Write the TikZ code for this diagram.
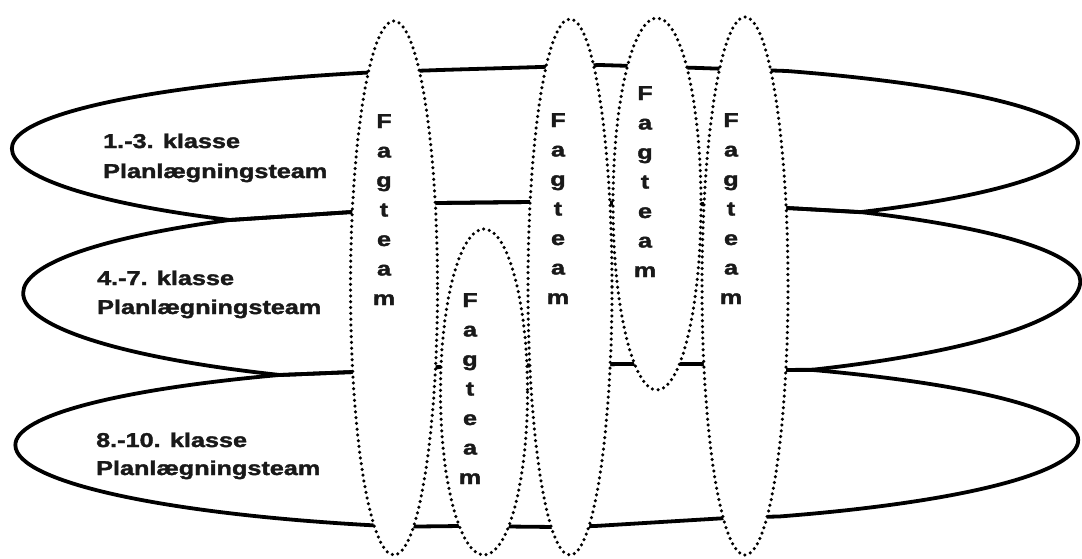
\documentclass[tikz,border=0pt]{standalone}
\usepackage{graphicx}
\usepackage{fontspec}
\newfontfamily\labfont{Liberation Sans}[UprightFont={* Bold}, FakeBold=1.6]
\newcommand{\wide}[1]{\scalebox{1.26}[1]{#1}}
\tikzset{
  grade/.style={draw=black, line width=3.8pt, line join=round},
  fagfill/.style={fill=white},
  fagring/.style={draw=black, line width=3.5pt, dash pattern=on 0pt off 5.8pt, line cap=round},
  lbl/.style={anchor=base west, inner sep=0pt, text=black!90,
    font=\labfont\fontsize{20}{24}\selectfont},
  fagl/.style={anchor=base, inner sep=0pt, text=black!90,
    font=\labfont\fontsize{20}{24}\selectfont}
}
\begin{document}
\begin{tikzpicture}[x=1pt,y=-1pt]
\useasboundingbox (0,0) rectangle (1082,558);
% grade-level planning teams (solid bands)
\draw[grade] (12,148)
  arc[start angle=180, end angle=250.6, x radius=533, y radius=80]
  -- (440,70) -- (540,67) -- (600,65) -- (700,68) -- (787,71)
  arc[start angle=297, end angle=360, x radius=533, y radius=81]
  arc[start angle=0, end angle=53.8, x radius=533, y radius=85.5]
  -- (787,208) -- (700,204) -- (530,202) -- (437,203) -- (352,212) -- (230,220)
  arc[start angle=126.2, end angle=180, x radius=533, y radius=89] -- cycle;
\draw[grade] (230,220) -- (352,212) -- (437,203) -- (530,202) -- (700,204)
  -- (787,208) -- (860,212)
  arc[start angle=305.7, end angle=360, x radius=529, y radius=85]
  arc[start angle=0, end angle=60.3, x radius=529, y radius=102]
  -- (788,370) -- (700,364) -- (620,364) -- (440,367) -- (353,372) -- (280,375)
  arc[start angle=120.9, end angle=180, x radius=528, y radius=95.6]
  arc[start angle=180, end angle=232.4, x radius=528, y radius=92] -- cycle;
\draw[grade] (280,375) -- (353,372) -- (440,367) -- (620,364) -- (700,364)
  -- (788,370) -- (813,370)
  arc[start angle=300.1, end angle=360, x radius=532, y radius=81]
  arc[start angle=0, end angle=63.9, x radius=532, y radius=85]
  -- (727,518) -- (595,526) -- (555,527) -- (460,526) -- (400,526.7)
  arc[start angle=106, end angle=180, x radius=531, y radius=85]
  arc[start angle=180, end angle=240.1, x radius=531, y radius=81] -- cycle;
% subject teams (dotted ellipses), white fill first
\fill[fagfill] (394,288) ellipse [x radius=43.5, y radius=267];
\fill[fagfill] (484,392) ellipse [x radius=43.5, y radius=163];
\fill[fagfill] (570,287) ellipse [x radius=42, y radius=268];
\fill[fagfill] (657,204) ellipse [x radius=44, y radius=186];
\fill[fagfill] (745,286) ellipse [x radius=43, y radius=269];
\draw[fagring] (394,288) ellipse [x radius=43.5, y radius=267];
\draw[fagring] (484,392) ellipse [x radius=43.5, y radius=163];
\draw[fagring] (570,287) ellipse [x radius=42, y radius=268];
\draw[fagring] (657,204) ellipse [x radius=44, y radius=186];
\draw[fagring] (745,286) ellipse [x radius=43, y radius=269];
% labels of the planning teams
\node[lbl] (g1a) at (103,148) {\wide{1.-3. klasse}};
\node[lbl] (g1b) at (103,178) {\wide{Planlægningsteam}};
\node[lbl] (g2a) at (97,285) {\wide{4.-7. klasse}};
\node[lbl] (g2b) at (97,314) {\wide{Planlægningsteam}};
\node[lbl] (g3a) at (96,447) {\wide{8.-10. klasse}};
\node[lbl] (g3b) at (96,475) {\wide{Planlægningsteam}};
% vertical "Fagteam" labels
\foreach \fx/\fy/\nm in {384/128/fa, 470/307/fb, 558/127/fc, 645/100/fd, 731/127/fe}{
  \foreach \ch [count=\i from 0] in {F,a,g,t,e,a,m}{
    \node[fagl] (\nm\i) at (\fx,\fy+29.5*\i) {\wide{\ch}};
  }
}
\end{tikzpicture}
\end{document}
